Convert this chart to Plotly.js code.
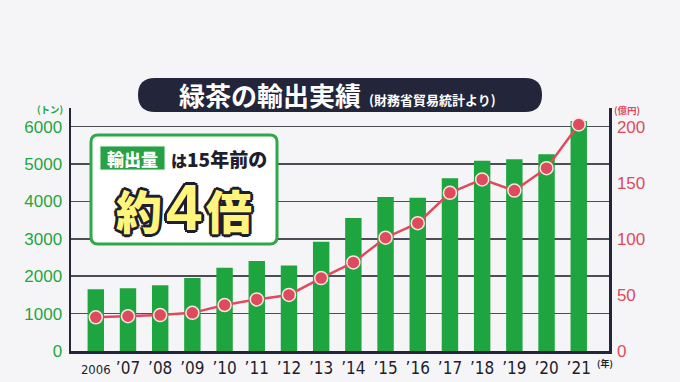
<!DOCTYPE html>
<html>
<head>
<meta charset="utf-8">
<script src="https://cdn.plot.ly/plotly-3.0.1.min.js"></script>
<style>
  html, body { margin: 0; padding: 0; background: #f5f5f7; }
  #chart { width: 680px; height: 382px; }
</style>
</head>
<body>
<div id="chart"></div>
<script>
// ---- data ----
const categories = ['2006', '’07', '’08', '’09', '’10', '’11', '’12', '’13', '’14', '’15', '’16', '’17', '’18', '’19', '’20', '’21'];
const exportTons = [1650, 1680, 1760, 1950, 2230, 2410, 2290, 2920, 3560, 4120, 4100, 4620, 5090, 5130, 5260, 6150];
const exportOkuYen = [30, 31, 32, 34, 41, 46, 50, 65, 79, 101, 114, 141, 153, 143, 163, 202];
const leftTicks = [0, 1000, 2000, 3000, 4000, 5000, 6000];
const rightTicks = [0, 50, 100, 150, 200];

// ---- geometry helpers (pixel -> paper) ----
const W = 680, H = 382;
const M = { l: 71, r: 71, t: 108, b: 31 };
const PL = M.l, PR = W - M.r, PT = M.t, PB = H - M.b;
const X = px => (px - PL) / (PR - PL);
const Y = py => (PB - py) / (PB - PT);

function roundRect(x0, y0, x1, y1, r) {
  const p = (x, y) => X(x).toFixed(5) + ',' + Y(y).toFixed(5);
  return 'M' + p(x0 + r, y0) + ' L' + p(x1 - r, y0) + ' Q' + p(x1, y0) + ' ' + p(x1, y0 + r) +
    ' L' + p(x1, y1 - r) + ' Q' + p(x1, y1) + ' ' + p(x1 - r, y1) +
    ' L' + p(x0 + r, y1) + ' Q' + p(x0, y1) + ' ' + p(x0, y1 - r) +
    ' L' + p(x0, y0 + r) + ' Q' + p(x0, y0) + ' ' + p(x0 + r, y0) + ' Z';
}

const GREEN = '#1fa53f';
const RED = '#df4a5c';
const NAVY = '#23253b';
const JP = '"Noto Sans CJK JP", "Noto Sans", sans-serif';
const NUM = '"Liberation Sans", Arial, sans-serif';
const OUTLINE = '2px 2px 0 #1e1e2e, -2px -2px 0 #1e1e2e, 2px -2px 0 #1e1e2e, -2px 2px 0 #1e1e2e, 0 3px 0 #1e1e2e, 3px 0 0 #1e1e2e, 0 -3px 0 #1e1e2e, -3px 0 0 #1e1e2e';

const tickText = categories.map(c => c.length === 4 ? '<span style="font-size:13px">' + c + '</span>' : c);

const traces = [
  {
    type: 'bar',
    x: categories,
    y: exportTons,
    marker: { color: GREEN, line: { width: 0 } },
    width: 0.51,
    yaxis: 'y',
    hoverinfo: 'x+y'
  },
  {
    type: 'scatter',
    mode: 'lines+markers',
    x: categories,
    y: exportOkuYen,
    yaxis: 'y2',
    line: { color: RED, width: 2.5 },
    marker: { color: RED, size: 13, line: { color: '#fbe6e6', width: 1.5 } },
    hoverinfo: 'x+y'
  }
];

const layout = {
  width: W, height: H,
  margin: M,
  paper_bgcolor: '#f5f5f7',
  plot_bgcolor: '#f5f5f7',
  showlegend: false,
  xaxis: {
    type: 'category',
    range: [-0.77, 15.94],
    tickvals: categories,
    ticktext: tickText,
    showgrid: false,
    ticks: '',
    showline: true,
    linecolor: NAVY,
    linewidth: 2.5,
    tickfont: { family: '"Liberation Sans Narrow", "DejaVu Sans Condensed", "Liberation Sans", sans-serif', size: 17, color: '#1e1e2a' },
    zeroline: false
  },
  yaxis: {
    range: [0, 6500],
    tickvals: leftTicks,
    ticktext: leftTicks.map(String),
    showgrid: true,
    gridcolor: '#4d4d58',
    gridwidth: 1.5,
    zeroline: false,
    showline: true,
    linecolor: NAVY,
    linewidth: 2.5,
    ticks: '',
    ticklabelstandoff: 3,
    tickfont: { family: NUM, size: 17, color: GREEN }
  },
  yaxis2: {
    overlaying: 'y',
    side: 'right',
    range: [0, 6500 / 30],
    tickvals: rightTicks,
    ticktext: rightTicks.map(String),
    showgrid: false,
    zeroline: false,
    showline: true,
    linecolor: NAVY,
    linewidth: 2.5,
    ticks: '',
    ticklabelstandoff: 2,
    tickfont: { family: NUM, size: 17, color: RED }
  },
  shapes: [
    { type: 'path', xref: 'paper', yref: 'paper', layer: 'above',
      path: roundRect(138, 78, 542, 112, 17), fillcolor: NAVY, line: { width: 0 } },
    { type: 'path', xref: 'paper', yref: 'paper', layer: 'above',
      path: roundRect(91, 135, 277, 244, 7), fillcolor: '#ffffff', line: { color: '#2ea84b', width: 3 } },
    { type: 'rect', xref: 'paper', yref: 'paper', layer: 'above',
      x0: X(100), x1: X(165), y0: Y(170), y1: Y(146), fillcolor: '#27a146', line: { color: '#e8f5e9', width: 1 } }
  ],
  annotations: [
    { xref: 'paper', yref: 'paper', x: X(177), y: Y(95), xanchor: 'left', yanchor: 'middle', showarrow: false,
      text: '緑茶の輸出実績', font: { family: JP, size: 26, color: '#ffffff', weight: 700 } },
    { xref: 'paper', yref: 'paper', x: X(367), y: Y(99.5), xanchor: 'left', yanchor: 'middle', showarrow: false,
      text: '(財務省貿易統計より)', font: { family: JP, size: 13, color: '#ffffff', weight: 700 } },
    { xref: 'paper', yref: 'paper', x: X(132.5), y: Y(158), xanchor: 'center', yanchor: 'middle', showarrow: false,
      text: '輸出量', font: { family: JP, size: 17, color: '#ffffff', weight: 900 } },
    { xref: 'paper', yref: 'paper', x: X(169), y: Y(158), xanchor: 'left', yanchor: 'middle', showarrow: false,
      text: '<span style="font-size:16px">は</span>15年前の', font: { family: JP, size: 19, color: '#1e1e2e', weight: 900 } },
    { xref: 'paper', yref: 'paper', x: X(139), y: Y(209), xanchor: 'center', yanchor: 'middle', showarrow: false,
      text: '約', font: { family: JP, size: 46, color: '#fff47c', weight: 900, shadow: OUTLINE } },
    { xref: 'paper', yref: 'paper', x: X(184), y: Y(208), xanchor: 'center', yanchor: 'middle', showarrow: false,
      text: '4', font: { family: NUM, size: 64, color: '#fff47c', weight: 700, shadow: OUTLINE } },
    { xref: 'paper', yref: 'paper', x: X(229), y: Y(209), xanchor: 'center', yanchor: 'middle', showarrow: false,
      text: '倍', font: { family: JP, size: 46, color: '#fff47c', weight: 900, shadow: OUTLINE } },
    { xref: 'paper', yref: 'paper', x: X(50), y: Y(109), xanchor: 'center', yanchor: 'middle', showarrow: false,
      text: '(トン)', font: { family: JP, size: 9.5, color: GREEN, weight: 700 } },
    { xref: 'paper', yref: 'paper', x: X(627), y: Y(109.5), xanchor: 'center', yanchor: 'middle', showarrow: false,
      text: '(億円)', font: { family: JP, size: 9.5, color: RED, weight: 700 } },
    { xref: 'paper', yref: 'paper', x: X(605), y: Y(363), xanchor: 'center', yanchor: 'middle', showarrow: false,
      text: '(年)', font: { family: JP, size: 9, color: '#1e1e2a', weight: 700 } }
  ]
};

Plotly.newPlot('chart', traces, layout, { staticPlot: true, displayModeBar: false });
</script>
</body>
</html>
